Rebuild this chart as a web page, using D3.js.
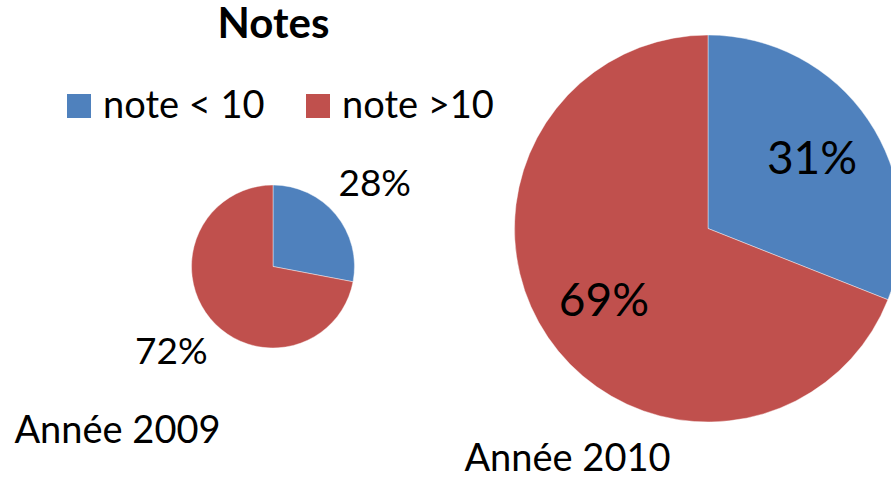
<!DOCTYPE html>
<html>
<head>
<meta charset="utf-8">
<script src="https://cdn.jsdelivr.net/npm/d3@7/dist/d3.min.js"></script>
<style>
  html, body { margin: 0; padding: 0; background: #fff; overflow: hidden; }
  text { font-family: Lato, "Open Sans", sans-serif; fill: #000; }
</style>
</head>
<body>
<svg id="chart" width="891" height="478"></svg>
<script>
// ---- data ----
const categories = ["note < 10", "note >10"];
const years = ["Année 2009", "Année 2010"];
const values2009 = [28, 72];
const values2010 = [31, 69];
const title = "Notes";
const colors = ["#4F81BD", "#C0504D"];

// ---- layout ----
const svg = d3.select("#chart");
const color = d3.scaleOrdinal().domain(categories).range(colors);

svg.append("text")
  .attr("x", 273.5).attr("y", 37.5)
  .attr("text-anchor", "middle")
  .style("font-weight", "bold").style("font-size", "42px")
  .text(title);

// legend
const legendX = [67, 306];
const leg = svg.append("g").selectAll("g").data(categories).join("g")
  .attr("transform", (d, i) => `translate(${legendX[i]},94)`);
leg.append("rect").attr("width", 24).attr("height", 24).attr("fill", d => color(d));
leg.append("text").attr("x", 36).attr("y", 24).style("font-size", "38px").text(d => d);

const pie = d3.pie().sort(null).value(d => d);

const pies = [
  { values: values2009, cx: 273, cy: 266.5, r: 81.5, labelR: 1.62, fs: 37,
    year: years[0], yx: 117.5, yy: 443 },
  { values: values2010, cx: 708, cy: 228.5, r: 193.5, labelR: 0.65, fs: 46,
    year: years[1], yx: 567.5, yy: 471 }
];

pies.forEach(p => {
  const g = svg.append("g").attr("transform", `translate(${p.cx},${p.cy})`);
  const arc = d3.arc().innerRadius(0).outerRadius(p.r);
  const labelArc = d3.arc().innerRadius(p.r * p.labelR).outerRadius(p.r * p.labelR);
  const arcs = pie(p.values);
  g.selectAll("path").data(arcs).join("path")
    .attr("d", arc)
    .attr("fill", (d, i) => colors[i])
    .attr("stroke", "#ffffff").attr("stroke-opacity", 0.6).attr("stroke-width", 0.7);
  g.selectAll("text.pct").data(arcs).join("text").attr("class", "pct")
    .attr("transform", d => `translate(${labelArc.centroid(d)})`)
    .attr("text-anchor", "middle")
    .attr("dy", "0.36em")
    .style("font-size", p.fs + "px")
    .text(d => d.data + "%");
  svg.append("text")
    .attr("x", p.yx).attr("y", p.yy)
    .attr("text-anchor", "middle")
    .style("font-size", "38px")
    .text(p.year);
});
</script>
</body>
</html>
